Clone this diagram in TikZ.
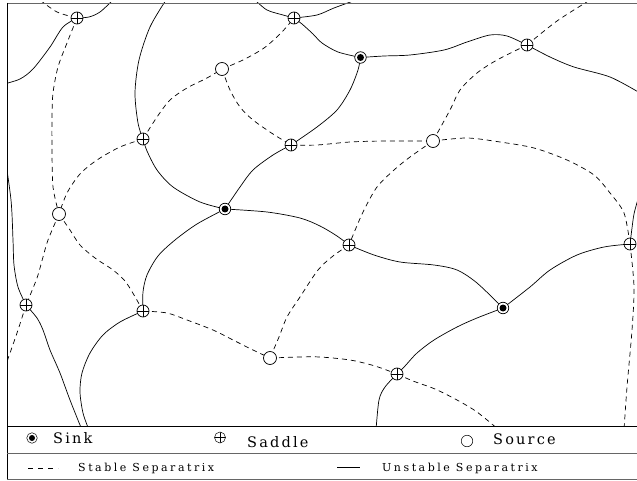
\documentclass[tikz,border=0pt]{standalone}
\usepackage{fontspec}
\newfontfamily\bigfont[LetterSpace=15]{DejaVu Serif}
\newfontfamily\smallfont[LetterSpace=23]{DejaVu Serif}
\pgfdeclarelayer{bg}
\pgfsetlayers{bg,main}
\tikzset{
  sep/.style={line width=0.7pt},
  stab/.style={line width=0.7pt, dash pattern=on 5pt off 4pt},
  sym/.style={circle, draw, fill=white, inner sep=0pt, line width=0.7pt},
  saddle/.style={sym, minimum size=12pt,
    path picture={\draw[black, line width=0.7pt] (path picture bounding box.north) -- (path picture bounding box.south)
      (path picture bounding box.west) -- (path picture bounding box.east);}},
  sink/.style={sym, minimum size=11.5pt,
    path picture={\fill[black] (path picture bounding box.center) circle (3.5pt);}},
  source/.style={sym, minimum size=13pt},
  lsaddle/.style={saddle, minimum size=11pt, line width=0.5pt},
  lsink/.style={sym, minimum size=10.5pt, line width=0.5pt,
    path picture={\fill[black] (path picture bounding box.center) circle (3pt);}},
  lsource/.style={sym, minimum size=11.5pt, line width=0.5pt},
  big/.style={inner sep=0pt, anchor=base west, font=\bigfont\fontsize{14.5}{17}\selectfont},
  small/.style={inner sep=0pt, anchor=base west, font=\smallfont\fontsize{11}{13}\selectfont},
  frameg/.style={line width=0.8pt, draw=black!60},
  frameb/.style={line width=0.8pt, draw=black},
}
\begin{document}
\begin{tikzpicture}[x=1pt,y=-1pt]
\useasboundingbox (0,0) rectangle (637,481);
% nodes
\node[saddle] (S1) at (77,18) {};
\node[saddle] (S2) at (294,18) {};
\node[saddle] (S3) at (527,45) {};
\node[saddle] (S4) at (143,139) {};
\node[saddle] (S5) at (291,145) {};
\node[saddle] (S6) at (349,245) {};
\node[saddle] (S7) at (630,244) {};
\node[saddle] (S8) at (26,305) {};
\node[saddle] (S9) at (143,311) {};
\node[saddle] (S10) at (397,374) {};
\node[sink] (K1) at (360.5,57.5) {};
\node[sink] (K2) at (225,209) {};
\node[sink] (K3) at (503,308) {};
\node[source] (O1) at (222,69) {};
\node[source] (O2) at (433,141) {};
\node[source] (O3) at (59,214) {};
\node[source] (O4) at (270,358) {};
\coordinate (e1) at (4,84);
\coordinate (e2) at (113,0);
\coordinate (e3) at (166,0);
\coordinate (e4) at (255,0);
\coordinate (e5) at (356,0);
\coordinate (e6) at (640,93);
\coordinate (e7) at (638,199);
\coordinate (e8) at (89,430);
\coordinate (e9) at (4,150);
\coordinate (e10) at (82,430);
\coordinate (e11) at (376,430);
\coordinate (e12) at (40,0);
\coordinate (e13) at (590,0);
\coordinate (e14) at (499,430);
\coordinate (e15) at (624,430);
\coordinate (e16) at (4,370);
\begin{pgfonlayer}{bg}
\begin{scope}
\clip (7,3) rectangle (637,426);
% unstable separatrices
\draw[sep] plot[smooth] coordinates {(S1) (63,27) (50,47) (33,69) (20,79) (e1)};
\draw[sep] plot[smooth] coordinates {(S1) (89,17) (100,12) (e2)};
\draw[sep] plot[smooth] coordinates {(e3) (150,27) (139,60) (135,93) (138,123) (S4)};
\draw[sep] plot[smooth] coordinates {(S4) (147,151) (157,170) (173,187) (200,202) (K2)};
\draw[sep] plot[smooth] coordinates {(e4) (267,10) (283,15) (S2)};
\draw[sep] plot[smooth] coordinates {(S2) (317,15) (334,8) (e5)};
\draw[sep] plot[smooth] coordinates {(S2) (302,24) (313,34) (322,43) (338,52) (K1)};
\draw[sep] plot[smooth] coordinates {(K1) (384,56) (410,55) (444,50) (467,42) (490,35) (507,36) (S3)};
\draw[sep] plot[smooth] coordinates {(S3) (550,57) (574,67) (610,77) (e6)};
\draw[sep] plot[smooth] coordinates {(S5) (317,127) (337,110) (350,90) (358,70) (K1)};
\draw[sep] plot[smooth] coordinates {(S5) (273,155) (253,170) (240,187) (K2)};
\draw[sep] plot[smooth] coordinates {(K2) (267,212) (300,218) (320,226) (337,236) (S6)};
\draw[sep] plot[smooth] coordinates {(K2) (197,224) (175,240) (158,256) (147,275) (143,292) (S9)};
\draw[sep] plot[smooth] coordinates {(S9) (120,322) (103,335) (90,353) (82,373) (80,392) (83,413) (e8)};
\draw[sep] plot[smooth] coordinates {(e9) (11,200) (13,240) (14,265) (18,287) (S8)};
\draw[sep] plot[smooth] coordinates {(S8) (37,318) (43,330) (50,350) (60,373) (70,400) (e10)};
\draw[sep] plot[smooth] coordinates {(S6) (374,255) (400,262) (434,265) (457,270) (477,283) (K3)};
\draw[sep] plot[smooth] coordinates {(K3) (530,287) (550,270) (577,255) (604,247) (S7)};
\draw[sep] plot[smooth] coordinates {(S7) (632,228) (634,214) (e7)};
\draw[sep] plot[smooth] coordinates {(K3) (477,318) (457,327) (434,340) (417,353) (405,366) (S10)};
\draw[sep] plot[smooth] coordinates {(S10) (385,387) (379,400) (e11)};
% stable separatrices
\draw[stab] plot[smooth] coordinates {(e12) (57,12) (S1)};
\draw[stab] plot[smooth] coordinates {(S1) (67,43) (58,67) (53,93) (52,117) (52,150) (53,187) (O3)};
\draw[stab] plot[smooth] coordinates {(S4) (157,117) (170,100) (187,88) (207,78) (O1)};
\draw[stab] plot[smooth] coordinates {(S4) (120,147) (97,160) (80,174) (67,193) (O3)};
\draw[stab] plot[smooth] coordinates {(O1) (230,90) (240,107) (253,120) (273,134) (S5)};
\draw[stab] plot[smooth] coordinates {(O1) (243,60) (264,48) (281,33) (S2)};
\draw[stab] plot[smooth] coordinates {(S5) (317,145) (350,142) (384,141) (O2)};
\draw[stab] plot[smooth] coordinates {(O2) (450,110) (460,90) (477,73) (497,60) (S3)};
\draw[stab] plot[smooth] coordinates {(S3) (557,21) (e13)};
\draw[stab] plot[smooth] coordinates {(O2) (467,138) (500,142) (534,148) (567,160) (594,175) (610,193) (624,213) (S7)};
\draw[stab] plot[smooth] coordinates {(O2) (410,157) (394,170) (377,187) (364,210) (356,228) (S6)};
\draw[stab] plot[smooth] coordinates {(S6) (333,256) (318,270) (300,297) (287,317) (279,337) (O4)};
\draw[stab] plot[smooth] coordinates {(O4) (300,357) (320,357) (350,360) (375,366) (S10)};
\draw[stab] plot[smooth] coordinates {(S10) (413,381) (435,389) (457,400) (477,412) (e14)};
\draw[stab] plot[smooth] coordinates {(S7) (634,287) (632,330) (627,387) (e15)};
\draw[stab] plot[smooth] coordinates {(O3) (48,240) (43,257) (37,278) (S8)};
\draw[stab] plot[smooth] coordinates {(S8) (17,333) (e16)};
\draw[stab] plot[smooth] coordinates {(O3) (70,230) (80,245) (95,258) (113,270) (125,281) (134,295) (S9)};
\draw[stab] plot[smooth] coordinates {(S9) (167,313) (187,320) (213,330) (233,340) (253,350) (O4)};
\end{scope}
\end{pgfonlayer}
% frame
\coordinate (f1) at (7,3);
\coordinate (f2) at (637,3);
\coordinate (f3) at (7,479);
\coordinate (f4) at (7,426);
\coordinate (f5) at (637,426);
\coordinate (f6) at (7,453);
\coordinate (f7) at (637,453);
\coordinate (f8) at (637,479);
\draw[frameg] (f1) -- (f2);
\draw[frameb] (f1) -- (f3);
\draw[frameb] (f4) -- (f5);
\draw[frameg] (f6) -- (f7);
\draw[frameg] (f3) -- (f8);
% legend
\node[lsink] (L1) at (32,438) {};
\node[big] (T1) at (53,443.5) {Sink};
\node[lsaddle] (L2) at (220,437.5) {};
\node[big] (T2) at (247,447.5) {Saddle};
\node[lsource] (L3) at (467,441) {};
\node[big] (T3) at (493,444.5) {Source};
\coordinate (a1) at (28,468);
\coordinate (a2) at (58,468);
\draw[line width=0.6pt, dash pattern=on 5pt off 5pt] (a1) -- (a2);
\node[small] (T4) at (78,471.5) {Stable Separatrix};
\coordinate (b1) at (337,467);
\coordinate (b2) at (360,467);
\draw[line width=0.6pt] (b1) -- (b2);
\node[small] (T5) at (382,471.5) {Unstable Separatrix};
\end{tikzpicture}
\end{document}
